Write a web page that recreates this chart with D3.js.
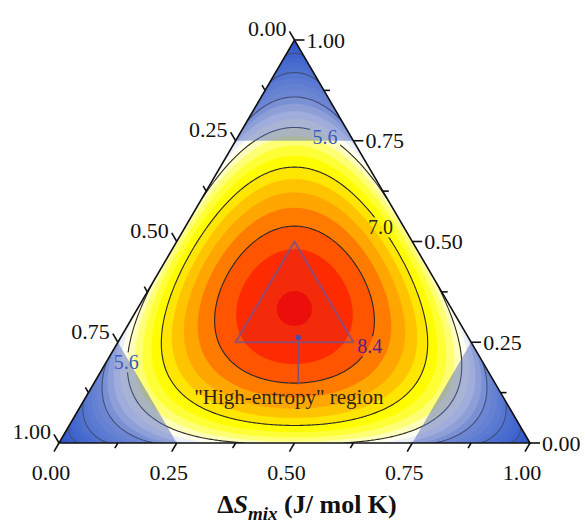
<!DOCTYPE html>
<html>
<head>
<meta charset="utf-8">
<script src="https://cdn.jsdelivr.net/npm/d3@7"></script>
<style>
  body { margin: 0; background: #fff; }
  svg { display: block; font-family: "Liberation Serif", "Times New Roman", serif; }
</style>
</head>
<body>
<svg id="chart" width="585" height="530"></svg>
<script>
// ---- data ----------------------------------------------------------------
// ideal mixing entropy of a ternary, dS = -R * sum(x ln x)
const R_GAS = 8.314;
// filled bands (J/mol K), one band every 0.35
const fillLevels = [0, 0.35, 0.7, 1.05, 1.4, 1.75, 2.1, 2.45, 2.8, 3.15, 3.5, 3.85, 4.2,
  4.55, 4.9, 5.25, 5.6, 5.95, 6.3, 6.65, 7.0, 7.35, 7.7, 8.05, 8.4, 8.75, 9.1];
const lineLevels = [1.4, 2.8, 4.2, 5.6, 7.0, 8.4];

// palette, value -> colour
const paletteValues = [0, 1.4, 2.8, 4.2, 4.9, 5.3, 5.8, 6.2, 6.8, 7.2, 7.5, 7.9, 8.2, 8.6, 8.9, 9.3];
const paletteColors = ['#0430cc', '#1a50da', '#4878e2', '#8aa6ea', '#dae3f6', '#ffffff', '#ffffb8',
  '#ffff66', '#ffff00', '#ffe400', '#ffc600', '#ffa400', '#ff7e00', '#ff5200', '#ff2c00', '#f50800'];

const tickValues = [0, 0.25, 0.5, 0.75, 1];
const tickLabels = ['0.00', '0.25', '0.50', '0.75', '1.00'];
const minorTickValues = [0.125, 0.375, 0.625, 0.875];

// shaded regions: corners where one component >= 0.75, centre where all >= 0.25
const cornerLimit = 0.75;
const centreLimit = 0.25;

// contour labels, placed by composition (a = bottom axis, c = right axis)
const contourLabels = [
  { text: '5.6', a: 0.185, c: 0.76, color: '#3b5bbf' },
  { text: '5.6', a: 0.043, c: 0.20, color: '#3b5bbf' },
  { text: '7.0', a: 0.415, c: 0.535, color: '#2e2a14' },
  { text: '8.4', a: 0.54, c: 0.24, color: '#5a1e8e' }
];
// "high-entropy" marker, pointer end and caption
const markerPoint = { a: 0.377, c: 0.262 };
const pointerEnd = { a: 0.435, c: 0.145 };
const captionPoint = { a: 0.439, c: 0.098 };
const captionText = '"High-entropy" region';

// ---- scales ----------------------------------------------------------------
const svg = d3.select('#chart');
const xS = d3.scaleLinear().domain([0, 1]).range([59, 530]);   // cartesian X (a + c/2)
const yS = d3.scaleLinear().domain([0, 1]).range([443, 40]);   // height = c

const toPx = (a, c) => [xS(a + c / 2), yS(c)];

const corners = { bl: toPx(0, 0), br: toPx(1, 0), top: toPx(0, 1) };

// ---- grid of entropy values -------------------------------------------------
const nx = 380, ny = 340;
const x0 = -0.02, x1 = 1.02, c0 = -0.02, c1 = 1.02;
const dX = (x1 - x0) / (nx - 1), dC = (c1 - c0) / (ny - 1);

function entropy(a, b, c) {
  let p = [Math.max(a, 0), Math.max(b, 0), Math.max(c, 0)];
  const s = p[0] + p[1] + p[2];
  p = p.map(v => v / s);
  let sum = 0;
  p.forEach(v => { if (v > 0) sum -= v * Math.log(v); });
  return R_GAS * sum;
}

const values = new Float64Array(nx * ny);
for (let j = 0; j < ny; j++) {
  const c = c1 - j * dC;
  for (let i = 0; i < nx; i++) {
    const X = x0 + i * dX;
    const a = X - c / 2;
    values[j * nx + i] = entropy(a, 1 - a - c, c);
  }
}

const gridPath = d3.geoPath(d3.geoTransform({
  point: function(x, y) {
    this.stream.point(xS(x0 + (x - 0.5) * dX), yS(c1 - (y - 0.5) * dC));
  }
}));

const color = d3.scaleLinear().domain(paletteValues).range(paletteColors).interpolate(d3.interpolateRgb);

// ---- defs: clip + mask -------------------------------------------------------
const defs = svg.append('defs');
defs.append('clipPath').attr('id', 'tri')
  .append('polygon')
  .attr('points', [corners.bl, corners.br, corners.top].map(p => p.join(',')).join(' '));

const labelMask = defs.append('mask').attr('id', 'lblmask')
  .attr('maskUnits', 'userSpaceOnUse').attr('x', 0).attr('y', 0).attr('width', 585).attr('height', 530);
labelMask.append('rect').attr('width', 585).attr('height', 530).attr('fill', '#fff');
contourLabels.forEach(d => {
  const [px, py] = toPx(d.a, d.c);
  labelMask.append('rect')
    .attr('x', px - 15).attr('y', py - 10).attr('width', 30).attr('height', 20)
    .attr('fill', '#000');
});

// ---- filled contours -----------------------------------------------------------
const plot = svg.append('g').attr('clip-path', 'url(#tri)');

const bands = d3.contours().size([nx, ny]).thresholds(fillLevels)(values);
plot.append('g').selectAll('path')
  .data(bands)
  .join('path')
  .attr('d', gridPath)
  .attr('fill', d => color(d.value + 0.175))
  .attr('stroke', d => color(d.value + 0.175))
  .attr('stroke-width', 0.4);

const lines = d3.contours().size([nx, ny]).thresholds(lineLevels)(values);
plot.append('g').attr('mask', 'url(#lblmask)').selectAll('path')
  .data(lines)
  .join('path')
  .attr('d', gridPath)
  .attr('fill', 'none')
  .attr('stroke', '#2a2a2a')
  .attr('stroke-width', 1.1);

// ---- shaded regions -----------------------------------------------------------------
const m = 1 - cornerLimit;
const cornerTris = [
  [toPx(0, 1), toPx(0, cornerLimit), toPx(m, cornerLimit)],     // top
  [toPx(0, 0), toPx(m, 0), toPx(0, m)],                         // bottom-left
  [toPx(1, 0), toPx(1 - m, 0), toPx(1 - m, m)]                  // bottom-right
];
plot.append('g').selectAll('polygon')
  .data(cornerTris)
  .join('polygon')
  .attr('points', d => d.map(p => p.join(',')).join(' '))
  .attr('fill', 'rgb(90,112,192)')
  .attr('fill-opacity', 0.52);

const q = centreLimit, r = 1 - 2 * centreLimit;
const centreTri = [toPx(q, r), toPx(q, q), toPx(r, q)];
plot.append('polygon')
  .attr('points', centreTri.map(p => p.join(',')).join(' '))
  .attr('fill', 'rgb(120,60,130)')
  .attr('fill-opacity', 0.08)
  .attr('stroke', 'rgb(125,80,135)')
  .attr('stroke-opacity', 0.8)
  .attr('stroke-width', 2.2)
  .attr('stroke-linejoin', 'round');

// pointer + marker
const mk = toPx(markerPoint.a, markerPoint.c);
const pe = toPx(pointerEnd.a, pointerEnd.c);
const cp = toPx(captionPoint.a, captionPoint.c);
plot.append('line')
  .attr('x1', mk[0]).attr('y1', mk[1]).attr('x2', mk[0]).attr('y2', pe[1])
  .attr('stroke', 'rgb(120,80,130)').attr('stroke-width', 1.5);
plot.append('circle')
  .attr('cx', mk[0]).attr('cy', mk[1]).attr('r', 2.6)
  .attr('fill', '#4a4aa8');

// contour labels
svg.append('g').selectAll('text')
  .data(contourLabels)
  .join('text')
  .attr('x', d => toPx(d.a, d.c)[0])
  .attr('y', d => toPx(d.a, d.c)[1])
  .attr('text-anchor', 'middle')
  .attr('dominant-baseline', 'central')
  .attr('font-size', 20)
  .attr('fill', d => d.color)
  .text(d => d.text);

svg.append('text')
  .attr('x', cp[0]).attr('y', cp[1])
  .attr('text-anchor', 'middle')
  .attr('font-size', 21)
  .attr('fill', '#2e2410')
  .text(captionText);

// ---- axes -------------------------------------------------------------------------
const axes = svg.append('g').attr('stroke', '#111').attr('stroke-width', 1.6).attr('fill', 'none');
axes.append('polygon')
  .attr('points', [corners.bl, corners.br, corners.top].map(p => p.join(',')).join(' '))
  .attr('stroke-linejoin', 'miter');

const unit = (p, q2) => { const dx = q2[0] - p[0], dy = q2[1] - p[1], l = Math.hypot(dx, dy); return [dx / l, dy / l]; };
const dirBottom = unit(corners.top, corners.bl);   // down-left
const dirLeft = unit(corners.br, corners.top);     // up-left
const dirRight = [1, 0];

const axisDefs = [
  { pos: v => toPx(v, 0), dir: dirBottom },          // bottom: a
  { pos: v => toPx(0, 1 - v), dir: dirLeft },        // left: b
  { pos: v => toPx(1 - v, v), dir: dirRight }        // right: c
];
axisDefs.forEach(ax => {
  tickValues.forEach(v => {
    const p = ax.pos(v);
    axes.append('line').attr('x1', p[0]).attr('y1', p[1])
      .attr('x2', p[0] + ax.dir[0] * 10).attr('y2', p[1] + ax.dir[1] * 10);
  });
  minorTickValues.forEach(v => {
    const p = ax.pos(v);
    axes.append('line').attr('x1', p[0]).attr('y1', p[1])
      .attr('x2', p[0] + ax.dir[0] * 6).attr('y2', p[1] + ax.dir[1] * 6);
  });
});

const lbl = svg.append('g').attr('font-size', 22).attr('fill', '#111');
tickValues.forEach((v, i) => {
  // bottom
  const pb = axisDefs[0].pos(v);
  lbl.append('text').attr('x', pb[0] - 8).attr('y', 480)
    .attr('text-anchor', 'middle').text(tickLabels[i]);
  // left
  const pl = axisDefs[1].pos(v);
  const el = [pl[0] + dirLeft[0] * 10, pl[1] + dirLeft[1] * 10];
  lbl.append('text').attr('x', el[0] - 3).attr('y', el[1] + 5)
    .attr('text-anchor', 'end').text(tickLabels[i]);
  // right
  const pr = axisDefs[2].pos(v);
  lbl.append('text').attr('x', pr[0] + 12).attr('y', pr[1])
    .attr('dominant-baseline', 'central').text(tickLabels[i]);
});

// title
const title = svg.append('text')
  .attr('x', 307).attr('y', 513)
  .attr('text-anchor', 'middle')
  .attr('font-size', 26)
  .attr('font-weight', 'bold')
  .attr('fill', '#111');
title.append('tspan').text('\u0394');
title.append('tspan').attr('font-style', 'italic').text('S');
title.append('tspan').attr('font-style', 'italic').attr('font-size', 19).attr('dy', 7).text('mix');
title.append('tspan').attr('dy', -7).text(' (J/ mol K)');
</script>
</body>
</html>
